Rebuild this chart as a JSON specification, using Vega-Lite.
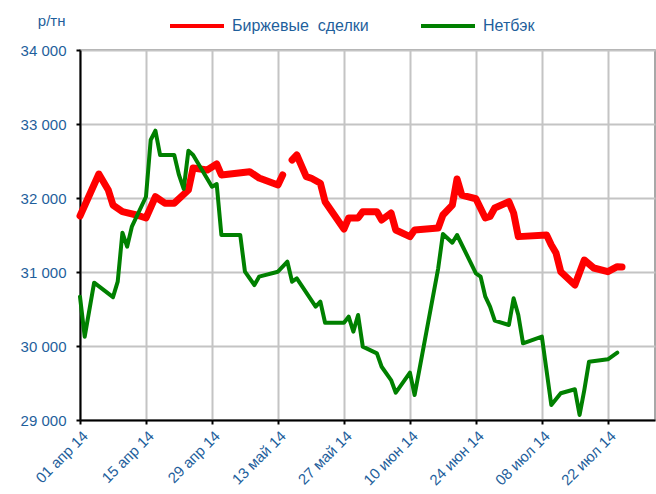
{
  "$schema": "https://vega.github.io/schema/vega-lite/v6.json",
  "width": 575,
  "height": 370,
  "autosize": "none",
  "padding": {"left": 80, "top": 50, "right": 1, "bottom": 74},
  "background": "white",
  "config": {
    "font": "Liberation Sans",
    "view": {"stroke": "#8c8c8c", "strokeWidth": 1.5},
    "axis": {
      "labelFont": "Liberation Sans",
      "labelFontSize": 15,
      "labelColor": "#1f5f9c",
      "titleFont": "Liberation Sans",
      "titleColor": "#1f5f9c",
      "titleFontWeight": "normal",
      "titleFontSize": 15,
      "domainColor": "black",
      "domainWidth": 2,
      "tickColor": "black",
      "tickWidth": 2,
      "tickSize": 4,
      "gridColor": "#c4c4c4",
      "gridWidth": 2
    }
  },
  "datasets": {
    "prices": [
      {"series": "Биржевые\u00a0 сделки", "seg": 1, "date": "2014-04-01", "value": 31757},
      {"series": "Биржевые\u00a0 сделки", "seg": 1, "date": "2014-04-05", "value": 32324},
      {"series": "Биржевые\u00a0 сделки", "seg": 1, "date": "2014-04-07", "value": 32108},
      {"series": "Биржевые\u00a0 сделки", "seg": 1, "date": "2014-04-08", "value": 31905},
      {"series": "Биржевые\u00a0 сделки", "seg": 1, "date": "2014-04-10", "value": 31815},
      {"series": "Биржевые\u00a0 сделки", "seg": 1, "date": "2014-04-13", "value": 31770},
      {"series": "Биржевые\u00a0 сделки", "seg": 1, "date": "2014-04-15", "value": 31730},
      {"series": "Биржевые\u00a0 сделки", "seg": 1, "date": "2014-04-17", "value": 32017},
      {"series": "Биржевые\u00a0 сделки", "seg": 1, "date": "2014-04-19", "value": 31930},
      {"series": "Биржевые\u00a0 сделки", "seg": 1, "date": "2014-04-21", "value": 31930},
      {"series": "Биржевые\u00a0 сделки", "seg": 1, "date": "2014-04-24", "value": 32108},
      {"series": "Биржевые\u00a0 сделки", "seg": 1, "date": "2014-04-25", "value": 32405},
      {"series": "Биржевые\u00a0 сделки", "seg": 1, "date": "2014-04-28", "value": 32378},
      {"series": "Биржевые\u00a0 сделки", "seg": 1, "date": "2014-04-30", "value": 32460},
      {"series": "Биржевые\u00a0 сделки", "seg": 1, "date": "2014-05-01", "value": 32311},
      {"series": "Биржевые\u00a0 сделки", "seg": 1, "date": "2014-05-07", "value": 32356},
      {"series": "Биржевые\u00a0 сделки", "seg": 1, "date": "2014-05-09", "value": 32270},
      {"series": "Биржевые\u00a0 сделки", "seg": 1, "date": "2014-05-13", "value": 32176},
      {"series": "Биржевые\u00a0 сделки", "seg": 1, "date": "2014-05-14", "value": 32311},
      {"series": "Биржевые\u00a0 сделки", "seg": 2, "date": "2014-05-16", "value": 32514},
      {"series": "Биржевые\u00a0 сделки", "seg": 2, "date": "2014-05-17", "value": 32581},
      {"series": "Биржевые\u00a0 сделки", "seg": 2, "date": "2014-05-19", "value": 32288},
      {"series": "Биржевые\u00a0 сделки", "seg": 2, "date": "2014-05-20", "value": 32270},
      {"series": "Биржевые\u00a0 сделки", "seg": 2, "date": "2014-05-22", "value": 32200},
      {"series": "Биржевые\u00a0 сделки", "seg": 2, "date": "2014-05-23", "value": 31950},
      {"series": "Биржевые\u00a0 сделки", "seg": 2, "date": "2014-05-27", "value": 31580},
      {"series": "Биржевые\u00a0 сделки", "seg": 2, "date": "2014-05-28", "value": 31730},
      {"series": "Биржевые\u00a0 сделки", "seg": 2, "date": "2014-05-30", "value": 31730},
      {"series": "Биржевые\u00a0 сделки", "seg": 2, "date": "2014-05-31", "value": 31815},
      {"series": "Биржевые\u00a0 сделки", "seg": 2, "date": "2014-06-03", "value": 31815},
      {"series": "Биржевые\u00a0 сделки", "seg": 2, "date": "2014-06-04", "value": 31703},
      {"series": "Биржевые\u00a0 сделки", "seg": 2, "date": "2014-06-06", "value": 31797},
      {"series": "Биржевые\u00a0 сделки", "seg": 2, "date": "2014-06-07", "value": 31568},
      {"series": "Биржевые\u00a0 сделки", "seg": 2, "date": "2014-06-10", "value": 31478},
      {"series": "Биржевые\u00a0 сделки", "seg": 2, "date": "2014-06-11", "value": 31568},
      {"series": "Биржевые\u00a0 сделки", "seg": 2, "date": "2014-06-16", "value": 31594},
      {"series": "Биржевые\u00a0 сделки", "seg": 2, "date": "2014-06-17", "value": 31770},
      {"series": "Биржевые\u00a0 сделки", "seg": 2, "date": "2014-06-19", "value": 31905},
      {"series": "Биржевые\u00a0 сделки", "seg": 2, "date": "2014-06-20", "value": 32257},
      {"series": "Биржевые\u00a0 сделки", "seg": 2, "date": "2014-06-21", "value": 32040},
      {"series": "Биржевые\u00a0 сделки", "seg": 2, "date": "2014-06-24", "value": 31990},
      {"series": "Биржевые\u00a0 сделки", "seg": 2, "date": "2014-06-26", "value": 31730},
      {"series": "Биржевые\u00a0 сделки", "seg": 2, "date": "2014-06-27", "value": 31750},
      {"series": "Биржевые\u00a0 сделки", "seg": 2, "date": "2014-06-28", "value": 31865},
      {"series": "Биржевые\u00a0 сделки", "seg": 2, "date": "2014-07-01", "value": 31950},
      {"series": "Биржевые\u00a0 сделки", "seg": 2, "date": "2014-07-02", "value": 31797},
      {"series": "Биржевые\u00a0 сделки", "seg": 2, "date": "2014-07-03", "value": 31478},
      {"series": "Биржевые\u00a0 сделки", "seg": 2, "date": "2014-07-09", "value": 31500},
      {"series": "Биржевые\u00a0 сделки", "seg": 2, "date": "2014-07-10", "value": 31365},
      {"series": "Биржевые\u00a0 сделки", "seg": 2, "date": "2014-07-11", "value": 31257},
      {"series": "Биржевые\u00a0 сделки", "seg": 2, "date": "2014-07-12", "value": 31004},
      {"series": "Биржевые\u00a0 сделки", "seg": 2, "date": "2014-07-15", "value": 30824},
      {"series": "Биржевые\u00a0 сделки", "seg": 2, "date": "2014-07-17", "value": 31162},
      {"series": "Биржевые\u00a0 сделки", "seg": 2, "date": "2014-07-19", "value": 31054},
      {"series": "Биржевые\u00a0 сделки", "seg": 2, "date": "2014-07-22", "value": 31004},
      {"series": "Биржевые\u00a0 сделки", "seg": 2, "date": "2014-07-24", "value": 31072},
      {"series": "Биржевые\u00a0 сделки", "seg": 2, "date": "2014-07-25", "value": 31068},
      {"series": "Нетбэк", "seg": 1, "date": "2014-04-01", "value": 30666},
      {"series": "Нетбэк", "seg": 1, "date": "2014-04-02", "value": 30126},
      {"series": "Нетбэк", "seg": 1, "date": "2014-04-04", "value": 30856},
      {"series": "Нетбэк", "seg": 1, "date": "2014-04-08", "value": 30660},
      {"series": "Нетбэк", "seg": 1, "date": "2014-04-09", "value": 30869},
      {"series": "Нетбэк", "seg": 1, "date": "2014-04-10", "value": 31531},
      {"series": "Нетбэк", "seg": 1, "date": "2014-04-11", "value": 31342},
      {"series": "Нетбэк", "seg": 1, "date": "2014-04-12", "value": 31612},
      {"series": "Нетбэк", "seg": 1, "date": "2014-04-15", "value": 32017},
      {"series": "Нетбэк", "seg": 1, "date": "2014-04-16", "value": 32784},
      {"series": "Нетбэк", "seg": 1, "date": "2014-04-17", "value": 32910},
      {"series": "Нетбэк", "seg": 1, "date": "2014-04-18", "value": 32581},
      {"series": "Нетбэк", "seg": 1, "date": "2014-04-21", "value": 32581},
      {"series": "Нетбэк", "seg": 1, "date": "2014-04-22", "value": 32311},
      {"series": "Нетбэк", "seg": 1, "date": "2014-04-23", "value": 32122},
      {"series": "Нетбэк", "seg": 1, "date": "2014-04-24", "value": 32640},
      {"series": "Нетбэк", "seg": 1, "date": "2014-04-25", "value": 32581},
      {"series": "Нетбэк", "seg": 1, "date": "2014-04-29", "value": 32153},
      {"series": "Нетбэк", "seg": 1, "date": "2014-04-30", "value": 32189},
      {"series": "Нетбэк", "seg": 1, "date": "2014-05-01", "value": 31500},
      {"series": "Нетбэк", "seg": 1, "date": "2014-05-05", "value": 31500},
      {"series": "Нетбэк", "seg": 1, "date": "2014-05-06", "value": 31004},
      {"series": "Нетбэк", "seg": 1, "date": "2014-05-08", "value": 30824},
      {"series": "Нетбэк", "seg": 1, "date": "2014-05-09", "value": 30937},
      {"series": "Нетбэк", "seg": 1, "date": "2014-05-13", "value": 31004},
      {"series": "Нетбэк", "seg": 1, "date": "2014-05-15", "value": 31139},
      {"series": "Нетбэк", "seg": 1, "date": "2014-05-16", "value": 30869},
      {"series": "Нетбэк", "seg": 1, "date": "2014-05-17", "value": 30914},
      {"series": "Нетбэк", "seg": 1, "date": "2014-05-21", "value": 30531},
      {"series": "Нетбэк", "seg": 1, "date": "2014-05-22", "value": 30599},
      {"series": "Нетбэк", "seg": 1, "date": "2014-05-23", "value": 30315},
      {"series": "Нетбэк", "seg": 1, "date": "2014-05-27", "value": 30315},
      {"series": "Нетбэк", "seg": 1, "date": "2014-05-28", "value": 30396},
      {"series": "Нетбэк", "seg": 1, "date": "2014-05-29", "value": 30194},
      {"series": "Нетбэк", "seg": 1, "date": "2014-05-30", "value": 30419},
      {"series": "Нетбэк", "seg": 1, "date": "2014-05-31", "value": 29991},
      {"series": "Нетбэк", "seg": 1, "date": "2014-06-03", "value": 29901},
      {"series": "Нетбэк", "seg": 1, "date": "2014-06-04", "value": 29720},
      {"series": "Нетбэк", "seg": 1, "date": "2014-06-06", "value": 29540},
      {"series": "Нетбэк", "seg": 1, "date": "2014-06-07", "value": 29369},
      {"series": "Нетбэк", "seg": 1, "date": "2014-06-10", "value": 29640},
      {"series": "Нетбэк", "seg": 1, "date": "2014-06-11", "value": 29338},
      {"series": "Нетбэк", "seg": 1, "date": "2014-06-12", "value": 29676},
      {"series": "Нетбэк", "seg": 1, "date": "2014-06-16", "value": 31050},
      {"series": "Нетбэк", "seg": 1, "date": "2014-06-17", "value": 31514},
      {"series": "Нетбэк", "seg": 1, "date": "2014-06-19", "value": 31396},
      {"series": "Нетбэк", "seg": 1, "date": "2014-06-20", "value": 31500},
      {"series": "Нетбэк", "seg": 1, "date": "2014-06-24", "value": 30982},
      {"series": "Нетбэк", "seg": 1, "date": "2014-06-25", "value": 30937},
      {"series": "Нетбэк", "seg": 1, "date": "2014-06-26", "value": 30666},
      {"series": "Нетбэк", "seg": 1, "date": "2014-06-27", "value": 30531},
      {"series": "Нетбэк", "seg": 1, "date": "2014-06-28", "value": 30342},
      {"series": "Нетбэк", "seg": 1, "date": "2014-07-01", "value": 30284},
      {"series": "Нетбэк", "seg": 1, "date": "2014-07-02", "value": 30644},
      {"series": "Нетбэк", "seg": 1, "date": "2014-07-03", "value": 30419},
      {"series": "Нетбэк", "seg": 1, "date": "2014-07-04", "value": 30036},
      {"series": "Нетбэк", "seg": 1, "date": "2014-07-08", "value": 30126},
      {"series": "Нетбэк", "seg": 1, "date": "2014-07-10", "value": 29203},
      {"series": "Нетбэк", "seg": 1, "date": "2014-07-12", "value": 29361},
      {"series": "Нетбэк", "seg": 1, "date": "2014-07-15", "value": 29415},
      {"series": "Нетбэк", "seg": 1, "date": "2014-07-16", "value": 29068},
      {"series": "Нетбэк", "seg": 1, "date": "2014-07-17", "value": 29405},
      {"series": "Нетбэк", "seg": 1, "date": "2014-07-18", "value": 29788},
      {"series": "Нетбэк", "seg": 1, "date": "2014-07-22", "value": 29820},
      {"series": "Нетбэк", "seg": 1, "date": "2014-07-24", "value": 29910}
    ]
  },
  "data": {"name": "prices"},
  "encoding": {
    "x": {
      "field": "date",
      "type": "temporal",
      "scale": {
        "type": "utc",
        "domain": [
          {"year": 2014, "month": 4, "date": 1, "utc": true},
          {"year": 2014, "month": 8, "date": 1, "utc": true}
        ]
      },
      "axis": {
        "title": null,
        "grid": true,
        "values": [
          {"year": 2014, "month": 4, "date": 1, "utc": true},
          {"year": 2014, "month": 4, "date": 15, "utc": true},
          {"year": 2014, "month": 4, "date": 29, "utc": true},
          {"year": 2014, "month": 5, "date": 13, "utc": true},
          {"year": 2014, "month": 5, "date": 27, "utc": true},
          {"year": 2014, "month": 6, "date": 10, "utc": true},
          {"year": 2014, "month": 6, "date": 24, "utc": true},
          {"year": 2014, "month": 7, "date": 8, "utc": true},
          {"year": 2014, "month": 7, "date": 22, "utc": true}
        ],
        "labelExpr": "utcFormat(datum.value, '%d') + ' ' + ['янв','фев','мар','апр','май','июн','июл','авг','сен','окт','ноя','дек'][utcmonth(datum.value)] + ' ' + utcFormat(datum.value, '%y')",
        "labelAngle": -45,
        "labelAlign": "right",
        "labelBaseline": "top",
        "labelPadding": 4
      }
    },
    "y": {
      "field": "value",
      "type": "quantitative",
      "scale": {"domain": [29000, 34000], "nice": false, "zero": false},
      "axis": {
        "values": [29000, 30000, 31000, 32000, 33000, 34000],
        "labelExpr": "replace(format(datum.value, ','), ',', ' ')",
        "labelPadding": 10,
        "title": "р/тн",
        "titleAngle": 0,
        "titleAlign": "right",
        "titleBaseline": "alphabetic",
        "titleX": -15,
        "titleY": -25
      }
    },
    "color": {
      "field": "series",
      "type": "nominal",
      "scale": {"domain": ["Биржевые\u00a0 сделки", "Нетбэк"], "range": ["#ff0000", "#008000"]},
      "legend": {
        "title": null,
        "orient": "none",
        "legendX": 88,
        "legendY": -53,
        "direction": "horizontal",
        "symbolType": "stroke",
        "symbolSize": 2916,
        "symbolStrokeWidth": 4,
        "labelFontSize": 16,
        "labelColor": "#1f5f9c",
        "labelFont": "Liberation Sans",
        "labelOffset": 6,
        "columnPadding": 44,
        "padding": 0
      }
    },
    "detail": {"field": "seg", "type": "nominal"}
  },
  "layer": [
    {
      "transform": [{"filter": "datum.series !== 'Нетбэк'"}],
      "mark": {"type": "line", "strokeWidth": 7, "strokeCap": "round", "strokeJoin": "round"}
    },
    {
      "transform": [{"filter": "datum.series === 'Нетбэк'"}],
      "mark": {"type": "line", "strokeWidth": 4, "strokeCap": "round", "strokeJoin": "round"}
    }
  ]
}
